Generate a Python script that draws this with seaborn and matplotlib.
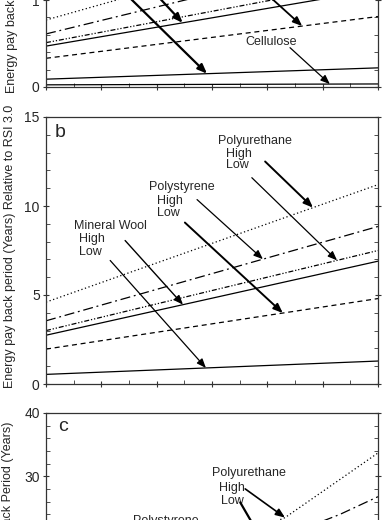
import numpy as np
import pandas as pd
import seaborn as sns
import matplotlib.pyplot as plt
from matplotlib.ticker import MultipleLocator

# x positions (axis labels are not shown in this crop)
x_ends = [0, 6]

# panel a - energy pay back period (years)
a_pu_high = [0.77, 1.85]
a_pu_low = [0.51, 1.23]
a_ps_high = [0.61, 1.54]
a_ps_low = [0.33, 0.81]
a_mw_high = [0.47, 1.12]
a_mw_low = [0.09, 0.22]
a_cellulose = [0.025, 0.035]

# panel b - energy pay back period relative to RSI 3.0
b_pu_high = [4.6, 11.2]
b_pu_low = [3.0, 7.5]
b_ps_high = [3.55, 8.85]
b_ps_low = [1.96, 4.8]
b_mw_high = [2.74, 6.9]
b_mw_low = [0.54, 1.29]

# panel c - only the top of it is in the picture
c_x_pu_high = [0, 4.32, 6]
c_pu_high = [8.0, 23.5, 33.7]
c_x_ps_high = [0, 5.31, 6]
c_ps_high = [6.0, 24.0, 26.8]
c_pu_low = [4.0, 22.0]

dashes = {'pu_high': (1, 2), 'pu_low': (4, 1.5, 1, 1.5, 1, 1.5),
          'ps_high': (8, 3, 1.5, 3), 'ps_low': (4, 3),
          'mw_high': '', 'mw_low': '', 'cellulose': ''}

sns.set_style("ticks")
plt.rcParams['font.family'] = ['Liberation Sans', 'DejaVu Sans']


def long_df(series):
    rows = []
    for name, (xs, ys) in series.items():
        for xv, yv in zip(xs, ys):
            rows.append({'x': xv, 'y': yv, 'series': name})
    return pd.DataFrame(rows)


def draw_lines(ax, series):
    df = long_df(series)
    sns.lineplot(data=df, x='x', y='y', style='series', dashes=dashes, color='black',
                 linewidth=0.9, legend=False, ax=ax, sort=False)
    ax.set_xlabel('')
    ax.set_ylabel('')


def arrow(ax, xs, ys, x_tip, x_start, y_start, lw=0.9):
    ax.annotate('', xy=(x_tip, np.interp(x_tip, xs, ys)), xytext=(x_start, y_start),
                arrowprops=dict(arrowstyle='-|>,head_length=0.55,head_width=0.22',
                                color='black', lw=lw, shrinkA=0, shrinkB=0))


def style_axes(ax, ymax, ymajor, yminor):
    ax.set_xlim(0, 6)
    ax.set_ylim(0, ymax)
    ax.xaxis.set_major_locator(MultipleLocator(1))
    ax.xaxis.set_minor_locator(MultipleLocator(0.5))
    ax.yaxis.set_major_locator(MultipleLocator(ymajor))
    ax.yaxis.set_minor_locator(MultipleLocator(yminor))
    ax.tick_params(which='major', direction='inout', length=5, width=0.8, right=True,
                   labelbottom=False, labelsize=10, pad=2, color='#333333')
    ax.tick_params(which='minor', direction='in', length=3, width=0.6, right=True,
                   color='#333333')
    for s in ax.spines.values():
        s.set_linewidth(0.9)
        s.set_color('#333333')


fig = plt.figure(figsize=(3.88, 5.2), dpi=100)
L, W = 46 / 388, 332 / 388
ax_a = fig.add_axes([L, 1 - 87 / 520, W, 3 * 87 / 520])
ax_b = fig.add_axes([L, 1 - 384 / 520, W, 267 / 520])
ax_c = fig.add_axes([L, 1 - 413 / 520 - 253.6 / 520, W, 253.6 / 520])

# ---- panel a
draw_lines(ax_a, {'pu_high': (x_ends, a_pu_high), 'pu_low': (x_ends, a_pu_low),
                  'ps_high': (x_ends, a_ps_high), 'ps_low': (x_ends, a_ps_low),
                  'mw_high': (x_ends, a_mw_high), 'mw_low': (x_ends, a_mw_low),
                  'cellulose': (x_ends, a_cellulose)})
style_axes(ax_a, 3, 1, 0.2)
arrow(ax_a, x_ends, a_mw_low, 2.91, 0.45, 1.69, lw=1.6)
arrow(ax_a, x_ends, a_mw_high, 2.47, 1.07, 1.69, lw=1.6)
arrow(ax_a, x_ends, a_ps_low, 4.63, 2.91, 1.69, lw=1.3)
ax_a.text(4.075, 0.517, 'Cellulose', fontsize=9, ha='center', va='center')
arrow(ax_a, x_ends, a_cellulose, 5.13, 4.41, 0.452, lw=0.9)
ax_a.set_ylabel('Energy pay back period (Years) Relative to RSI 3.0', fontsize=9)
ax_a.yaxis.set_label_coords(-0.083, 0.52)

# ---- panel b
draw_lines(ax_b, {'pu_high': (x_ends, b_pu_high), 'pu_low': (x_ends, b_pu_low),
                  'ps_high': (x_ends, b_ps_high), 'ps_low': (x_ends, b_ps_low),
                  'mw_high': (x_ends, b_mw_high), 'mw_low': (x_ends, b_mw_low)})
style_axes(ax_b, 15, 5, 1)
ax_b.text(0.163, 14.13, 'b', fontsize=14, ha='left', va='center')
ax_b.text(3.11, 13.66, 'Polyurethane', fontsize=9, ha='left', va='center')
ax_b.text(3.25, 12.93, 'High', fontsize=9, ha='left', va='center')
ax_b.text(3.25, 12.32, 'Low', fontsize=9, ha='left', va='center')
arrow(ax_b, x_ends, b_pu_high, 4.825, 3.96, 12.5, lw=1.4)
arrow(ax_b, x_ends, b_pu_low, 5.26, 3.72, 11.59, lw=0.9)
ax_b.text(1.86, 11.09, 'Polystyrene', fontsize=9, ha='left', va='center')
ax_b.text(2.01, 10.30, 'High', fontsize=9, ha='left', va='center')
ax_b.text(2.01, 9.63, 'Low', fontsize=9, ha='left', va='center')
arrow(ax_b, x_ends, b_ps_high, 3.92, 2.73, 10.36, lw=0.9)
arrow(ax_b, x_ends, b_ps_low, 4.28, 2.51, 9.07, lw=1.4)
ax_b.text(0.506, 8.85, 'Mineral Wool', fontsize=9, ha='left', va='center')
ax_b.text(0.60, 8.17, 'High', fontsize=9, ha='left', va='center')
ax_b.text(0.60, 7.41, 'Low', fontsize=9, ha='left', va='center')
arrow(ax_b, x_ends, b_mw_high, 2.476, 1.43, 8.06, lw=1.0)
arrow(ax_b, x_ends, b_mw_low, 2.89, 1.16, 6.94, lw=0.9)
ax_b.set_ylabel('Energy pay back period (Years) Relative to RSI 3.0', fontsize=9)
ax_b.yaxis.set_label_coords(-0.090, 0.517)

# ---- panel c
draw_lines(ax_c, {'pu_high': (c_x_pu_high, c_pu_high), 'ps_high': (c_x_ps_high, c_ps_high),
                  'pu_low': (x_ends, c_pu_low)})
style_axes(ax_c, 40, 10, 2)
ax_c.text(0.217, 37.9, 'c', fontsize=14, ha='left', va='center')
ax_c.text(3.0, 30.6, 'Polyurethane', fontsize=9, ha='left', va='center')
ax_c.text(3.135, 28.1, 'High', fontsize=9, ha='left', va='center')
ax_c.text(3.16, 26.1, 'Low', fontsize=9, ha='left', va='center')
arrow(ax_c, c_x_pu_high, c_pu_high, 4.32, 3.6, 28.03, lw=1.2)
arrow(ax_c, x_ends, c_pu_low, 4.14, 3.51, 25.9, lw=1.6)
ax_c.text(1.57, 22.9, 'Polystyrene', fontsize=9, ha='left', va='center')
ax_c.set_ylabel('Financial Pay Back Period (Years)', fontsize=9)
ax_c.yaxis.set_label_coords(-0.096, 0.59)

fig.savefig('out.png', dpi=100)
